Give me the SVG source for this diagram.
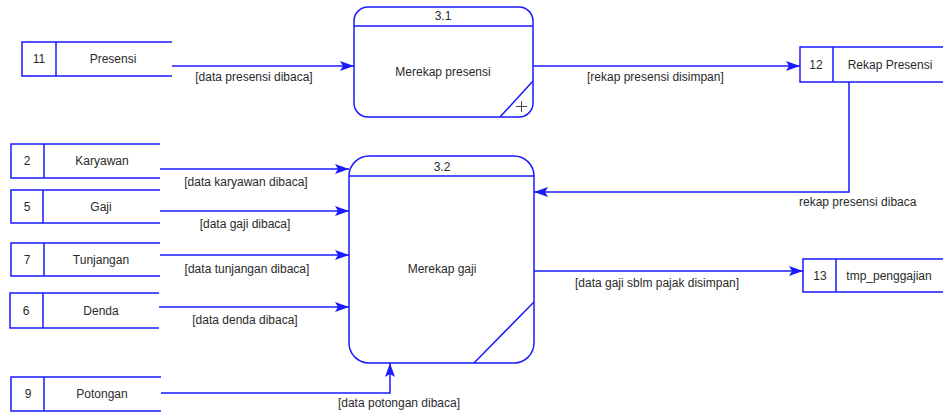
<svg xmlns="http://www.w3.org/2000/svg" width="943" height="415" viewBox="0 0 943 415">
  <style>
    .ln { fill: none; stroke: #1a1aff; stroke-width: 1.5; }
    .box { fill: #ffffff; stroke: #1a1aff; stroke-width: 1.5; }
    .plus { fill: none; stroke: #444444; stroke-width: 1; }
    .tx { font-family: "Liberation Sans", Arial, sans-serif; font-size: 12px; fill: #2a2a2a; }
    .mid { text-anchor: middle; }
  </style>
  <defs>
    <marker id="arr" markerWidth="14" markerHeight="10" viewBox="0 0 14 10" refX="14" refY="5" orient="auto" markerUnits="userSpaceOnUse">
      <path d="M0,0 L14,5 L0,10 L3,5 Z" fill="#1a1aff"/>
    </marker>
  </defs>
  <rect width="943" height="415" fill="#ffffff"/>

  <!-- data stores -->
  <g id="store-11">
    <path class="ln" d="M172,42 H22 V76 H172 M56,42 V76"/>
    <text class="tx mid" x="39" y="63">11</text>
    <text class="tx mid" x="113" y="63">Presensi</text>
  </g>
  <g id="store-12">
    <path class="ln" d="M943,47 H800 V82 H943 M833,47 V82"/>
    <text class="tx mid" x="816" y="69">12</text>
    <text class="tx mid" x="890" y="69">Rekap Presensi</text>
  </g>
  <g id="store-2">
    <path class="ln" d="M160,144 H11 V178 H160 M44,144 V178"/>
    <text class="tx mid" x="27" y="165">2</text>
    <text class="tx mid" x="102" y="165">Karyawan</text>
  </g>
  <g id="store-5">
    <path class="ln" d="M160,190 H11 V223 H160 M43,190 V223"/>
    <text class="tx mid" x="27" y="211">5</text>
    <text class="tx mid" x="101" y="211">Gaji</text>
  </g>
  <g id="store-7">
    <path class="ln" d="M160,243 H11 V276 H160 M44,243 V276"/>
    <text class="tx mid" x="27" y="264">7</text>
    <text class="tx mid" x="101" y="264">Tunjangan</text>
  </g>
  <g id="store-6">
    <path class="ln" d="M159,293 H10 V328 H159 M43,293 V328"/>
    <text class="tx mid" x="26" y="315">6</text>
    <text class="tx mid" x="101" y="315">Denda</text>
  </g>
  <g id="store-9">
    <path class="ln" d="M161,377 H11 V411 H161 M44,377 V411"/>
    <text class="tx mid" x="28" y="398">9</text>
    <text class="tx mid" x="102" y="398">Potongan</text>
  </g>
  <g id="store-13">
    <path class="ln" d="M943,259 H803 V292 H943 M836,259 V292"/>
    <text class="tx mid" x="820" y="280">13</text>
    <text class="tx mid" x="889" y="280">tmp_penggajian</text>
  </g>

  <!-- processes -->
  <g id="proc-3-1">
    <rect class="box" x="354" y="7" width="179" height="110" rx="14" ry="14"/>
    <path class="ln" d="M354,26 H533 M500,117 L533,81"/>
    <path class="plus" d="M516,106.5 H527 M521.5,101 V112"/>
    <text class="tx mid" x="443" y="20">3.1</text>
    <text class="tx mid" x="443" y="76">Merekap presensi</text>
  </g>
  <g id="proc-3-2">
    <rect class="box" x="349" y="156" width="185" height="207" rx="20" ry="20"/>
    <path class="ln" d="M349,176 H534 M474,363 L534,302"/>
    <text class="tx mid" x="442" y="171">3.2</text>
    <text class="tx mid" x="442" y="273">Merekap gaji</text>
  </g>

  <!-- data flows -->
  <g id="flows">
    <path class="ln" d="M172,66 H354" marker-end="url(#arr)"/>
    <path class="ln" d="M533,66 H800" marker-end="url(#arr)"/>
    <path class="ln" d="M849,82 V192 H534" marker-end="url(#arr)"/>
    <path class="ln" d="M160,169 H349" marker-end="url(#arr)"/>
    <path class="ln" d="M160,211 H349" marker-end="url(#arr)"/>
    <path class="ln" d="M160,255 H349" marker-end="url(#arr)"/>
    <path class="ln" d="M159,307 H349" marker-end="url(#arr)"/>
    <path class="ln" d="M161,393 H390 V363" marker-end="url(#arr)"/>
    <path class="ln" d="M534,271 H803" marker-end="url(#arr)"/>

    <text class="tx mid" x="254" y="81">[data presensi dibaca]</text>
    <text class="tx" x="587" y="81">[rekap presensi disimpan]</text>
    <text class="tx" x="799" y="206">rekap presensi dibaca</text>
    <text class="tx mid" x="246" y="186">[data karyawan dibaca]</text>
    <text class="tx mid" x="245" y="228">[data gaji dibaca]</text>
    <text class="tx mid" x="247" y="273">[data tunjangan dibaca]</text>
    <text class="tx mid" x="245" y="324">[data denda dibaca]</text>
    <text class="tx mid" x="399" y="407">[data potongan dibaca]</text>
    <text class="tx" x="575" y="287">[data gaji sblm pajak disimpan]</text>
  </g>
</svg>
